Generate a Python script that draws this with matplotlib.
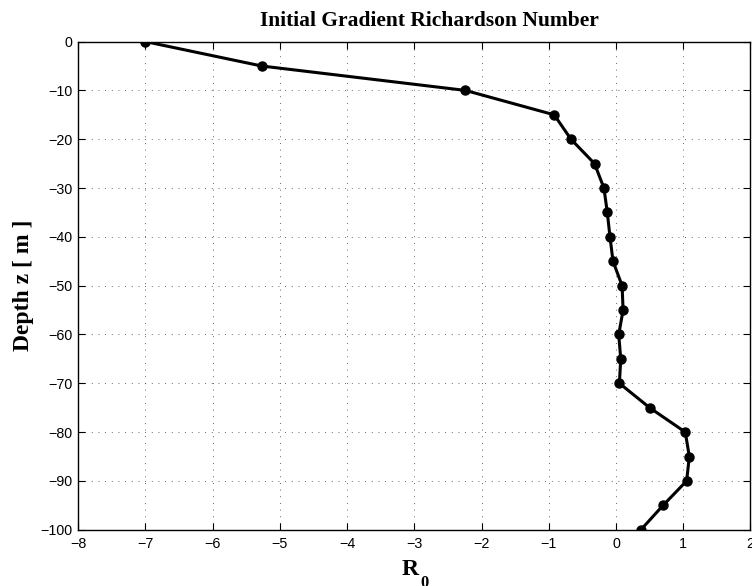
import matplotlib
matplotlib.use("Agg")
import matplotlib.pyplot as plt

# initial gradient Richardson number profile
depth = [0, -5, -10, -15, -20, -25, -30, -35, -40, -45, -50,
         -55, -60, -65, -70, -75, -80, -85, -90, -95, -100]
ri0 = [-7.0, -5.27, -2.24, -0.92, -0.67, -0.32, -0.18, -0.13, -0.09, -0.045, 0.09,
       0.105, 0.04, 0.07, 0.05, 0.50, 1.03, 1.09, 1.05, 0.70, 0.37]

xticks = list(range(-8, 3))
yticks = list(range(-100, 1, 10))

fig = plt.figure(figsize=(7.52, 5.86), dpi=100)
ax = fig.add_axes([0.104, 0.096, 0.894, 0.833])

ax.plot(ri0, depth, color='black', lw=2.2, marker='o', ms=6.5)

ax.set_xlim(-8, 2)
ax.set_ylim(-100, 0)
ax.set_xticks(xticks)
ax.set_yticks(yticks)
ax.tick_params(direction='in', top=True, right=True, length=5, width=0.8,
               labelsize=10.3)
ax.tick_params(axis='x', pad=5)
ax.tick_params(axis='y', pad=4)
for lab in ax.get_xticklabels() + ax.get_yticklabels():
    lab.set_family('Liberation Sans')
ax.grid(True, linestyle=(0, (1, 7)), color='0.2', lw=0.6)
for s in ax.spines.values():
    s.set_linewidth(1.0)

ax.set_title('Initial Gradient Richardson Number', family='Liberation Serif',
             fontweight='bold', fontsize=15.5, pad=11, x=0.523)
ax.set_ylabel('Depth z [ m ]', family='Liberation Serif', fontweight='bold',
              fontsize=17, labelpad=5)

# R with a dropped subscript 0
ax.set_xlabel('R', family='Liberation Serif', fontweight='bold',
              fontsize=17, labelpad=6, x=0.494)
ax.annotate('0', xy=(1, 0), xycoords=ax.xaxis.label, xytext=(1, -2),
            textcoords='offset points', ha='left', va='center',
            family='Liberation Serif', fontweight='bold', fontsize=12)

fig.savefig('out.png', dpi=100)
